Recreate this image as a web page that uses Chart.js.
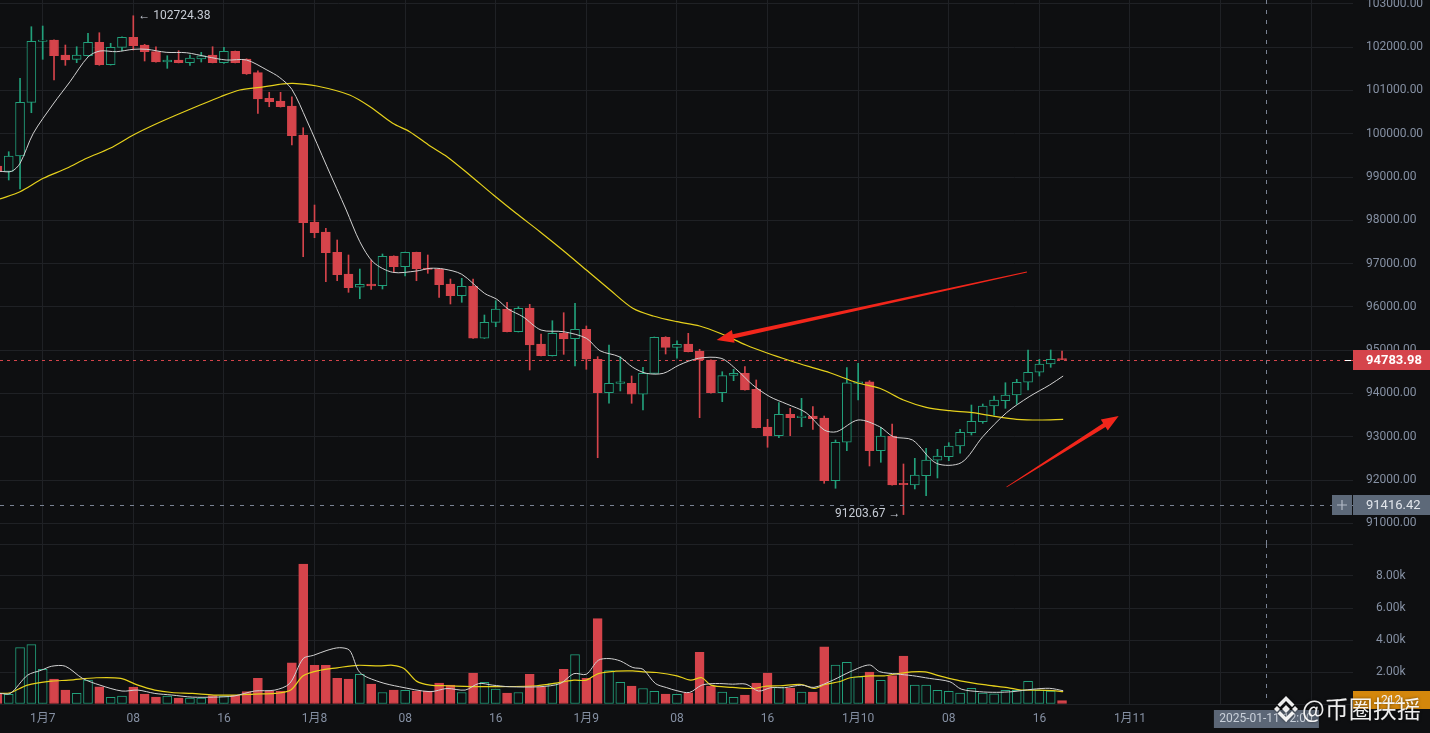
<!DOCTYPE html>
<html>
<head>
<meta charset="utf-8">
<script src="https://cdn.jsdelivr.net/npm/chart.js@4.4.1/dist/chart.umd.min.js"></script>
<style>
  html, body { margin: 0; padding: 0; background: #0e0f11; overflow: hidden; }
  #pricePane { position: absolute; left: 0; top: 0; width: 1430px; height: 544px; }
  #volPane { position: absolute; left: 0; top: 544px; width: 1430px; height: 189px; }
</style>
</head>
<body>
<div id="pricePane"><canvas id="priceChart" width="1430" height="544"></canvas></div>
<div id="volPane"><canvas id="volChart" width="1430" height="189"></canvas></div>
<script>
// hourly candles, index 0 = 2025-01-06 20:00 ... index 94 = 2025-01-10 18:00
const openPrice = [
  99254, 99131, 99485, 100725, 102134, 102164, 101817, 101718, 101801, 102111,
  101593, 101995, 102226, 102048, 101894, 101656, 101702, 101640, 101725, 101817,
  101640, 101903, 101725, 101409, 100817, 100755, 100640, 99970, 97954, 97730,
  97261, 96760, 96453, 96529, 96490, 97175, 96928, 97261, 96898, 96875,
  96529, 96259, 96476, 95275, 95644, 95951, 95427, 95975, 95143, 94873,
  95390, 95266, 95483, 94790, 94018, 94235, 94235, 93982, 94466, 95298,
  95067, 95143, 94982, 94774, 94018, 94420, 94466, 94097, 93226, 93025,
  93520, 93441, 93480, 93434, 91986, 92873, 94235, 94272, 92679, 93019,
  91926, 91887, 92102, 92458, 92540, 92788, 93095, 93349, 93711, 93834,
  93965, 94259, 94490, 94681, 94804
];
const highPrice = [
  99323, 99584, 101279, 102471, 102487, 102170, 102048, 102009, 102318, 102332,
  102088, 102235, 102724.38, 102064, 102009, 101801, 101917, 101817, 101880, 102009,
  101995, 101910, 101730, 101455, 100956, 100956, 100854, 100138, 98353, 97815,
  97545, 97199, 96875, 97083, 97222, 97180, 97265, 97265, 97199, 96880,
  96644, 96660, 96644, 95813, 96143, 96106, 96005, 96060, 95374, 95681,
  95866, 96083, 95559, 94850, 95120, 94850, 94404, 94605, 95305, 95312,
  95219, 95390, 95021, 94780, 94503, 94559, 94619, 94312, 93404, 93788,
  93658, 93889, 93695, 93480, 92926, 94596, 94697, 94296, 93219, 93296,
  92372, 92503, 92735, 92711, 92864, 93173, 93734, 93757, 93942, 94249,
  94328, 95005, 94790, 95005, 94982
];
const lowPrice = [
  99046, 98931, 98723, 100485, 101718, 101240, 101579, 101640, 101790, 101580,
  101585, 101917, 101933, 101679, 101650, 101510, 101635, 101579, 101656, 101635,
  101626, 101635, 101370, 100471, 100623, 100615, 99739, 97159, 97598, 96582,
  96605, 96337, 96189, 96406, 96413, 96806, 96714, 96605, 96776, 96221,
  96067, 96106, 95270, 95270, 95543, 95420, 95420, 94543, 94865, 94865,
  94905, 94635, 94559, 92517, 93774, 94058, 93774, 93619, 94460, 94912,
  94813, 94960, 93441, 94010, 93811, 94296, 94075, 93205, 92758, 92979,
  93025, 93233, 93173, 91926, 91811, 92679, 93850, 92326, 92411, 91880,
  91203.67, 91795, 91640, 92049, 92448, 92619, 93042, 93312, 93497, 93658,
  93750, 94081, 94404, 94605, 94780
];
const closePrice = [
  99131, 99485, 100725, 102134, 102164, 101801, 101702, 101817, 102111, 101593,
  101995, 102226, 102032, 101894, 101656, 101702, 101640, 101748, 101801, 101640,
  101903, 101640, 101378, 100801, 100739, 100623, 99954, 97945, 97714, 97252,
  96744, 96444, 96522, 96483, 97169, 96928, 97261, 96882, 96868, 96513,
  96259, 96476, 95275, 95644, 95951, 95427, 95967, 95120, 94873, 95390,
  95259, 95483, 94790, 94018, 94235, 94272, 93982, 94466, 95298, 95067,
  95136, 94965, 94774, 94018, 94411, 94466, 94081, 93210, 93025, 93520,
  93441, 93480, 93418, 91986, 92873, 94249, 94272, 92679, 93019, 91887,
  91894, 92118, 92465, 92557, 92788, 93104, 93358, 93711, 93850, 93965,
  94259, 94490, 94681, 94790, 94783.98
];
const volume = [
  600, 600, 3520, 3710, 2160, 1550, 870, 660, 1490, 1080,
  420, 500, 1060, 620, 430, 500, 370, 370, 370, 520,
  500, 540, 770, 1610, 810, 810, 2570, 8750, 2420, 2420,
  1610, 1550, 1860, 1240, 720, 870, 850, 810, 810, 1300,
  1180, 720, 1930, 1350, 930, 680, 720, 1860, 1040, 1280,
  2170, 3090, 1600, 5340, 2090, 1350, 1120, 970, 790, 620,
  600, 700, 3230, 1120, 750, 420, 560, 1300, 1930, 1040,
  990, 750, 750, 3580, 2440, 2600, 1700, 2000, 1480, 1770,
  3000, 1190, 1190, 860, 790, 690, 980, 690, 630, 860,
  860, 1420, 860, 800, 212
];

// moving average lines: [hour index, value]
const priceMaWhite = [
  [0.23, 99131], [1.26, 99131], [2.0, 99316], [3.17, 100009], [4.93, 100686], [6.41, 101201],
  [8.02, 101778], [9.06, 101910], [10.5, 101894], [12.0, 101949], [13.2, 101949], [14.9, 101880],
  [16.7, 101870], [18.5, 101778], [20.2, 101702], [22.0, 101702], [23.8, 101471], [24.9, 101302],
  [26.0, 101025], [27.3, 100316], [29.1, 99238], [30.8, 98238], [32.0, 97506], [33.2, 97030],
  [34.9, 96799], [37.0, 96829], [38.2, 96891], [39.4, 96875], [41.0, 96753], [43.0, 96314],
  [44.1, 96175], [45.1, 95951], [46.4, 95773], [48.0, 95466], [50.0, 95427], [52.0, 95275],
  [53.2, 94988], [54.9, 94850], [56.1, 94605], [57.3, 94466], [58.8, 94466], [60.2, 94658],
  [61.9, 94813], [63.9, 94813], [65.3, 94543], [66.7, 94196], [68.2, 93926], [69.7, 93757],
  [71.4, 93557], [73.0, 93157], [74.1, 93118], [76.0, 93388], [77.9, 93233], [79.1, 93002],
  [80.8, 92926], [82.9, 92388], [85.1, 92402], [87.0, 93002], [89.1, 93557], [91.1, 93926],
  [92.9, 94196], [94.1, 94404]
];
const priceMaYellow = [
  [0.23, 98492], [2.0, 98660], [4.05, 98970], [6.12, 99201], [7.88, 99432], [9.94, 99663],
  [12.0, 99970], [13.8, 100201], [15.8, 100432], [17.9, 100663], [19.7, 100854], [21.4, 101009],
  [23.2, 101071], [24.9, 101141], [26.1, 101164], [28.2, 101101], [31.1, 100894], [32.9, 100623],
  [34.9, 100240], [36.4, 100046], [38.2, 99716], [39.7, 99469], [41.7, 99046], [43.8, 98584],
  [45.8, 98162], [47.9, 97737], [49.9, 97314], [52.0, 96852], [54.1, 96390], [56.1, 95968],
  [57.9, 95790], [60.0, 95658], [62.0, 95559], [63.8, 95390], [66.1, 95120], [67.9, 94942],
  [70.0, 94757], [71.7, 94619], [73.5, 94480], [75.9, 94249], [77.9, 94120], [80.0, 93850],
  [82.0, 93681], [84.1, 93603], [86.1, 93557], [88.2, 93464], [90.0, 93404], [92.0, 93388],
  [94.1, 93404]
];
const volMaWhite = [
  [0.23, 660], [1.14, 660], [2.66, 1800], [3.88, 2110], [4.79, 2360], [6.0, 2360], [7.52, 1600],
  [9.05, 1180], [11.0, 810], [12.4, 870], [13.9, 660], [15.4, 560], [17.2, 430], [19.1, 430],
  [20.9, 500], [22.7, 810], [24.5, 870], [25.8, 1280], [27.0, 2840], [27.9, 3040], [29.1, 3350],
  [30.2, 3520], [31.1, 3350], [32.0, 1970], [33.7, 1390], [35.5, 1080], [38.2, 770], [39.7, 970],
  [41.3, 870], [42.5, 1280], [43.7, 1180], [45.2, 1080], [47.9, 1080], [49.7, 1280], [50.9, 1900],
  [52.0, 1860], [53.05, 2730], [54.0, 2840], [55.0, 2690], [56.1, 2280], [57.0, 2170], [58.1, 1280],
  [59.1, 1020], [60.0, 830], [61.1, 720], [62.2, 1180], [63.4, 1280], [64.9, 1240], [66.1, 1240],
  [67.2, 810], [68.3, 1020], [69.5, 1020], [71.0, 1180], [72.1, 1040], [73.8, 1500], [75.3, 2020],
  [77.0, 2440], [77.9, 2020], [79.4, 1875], [80.8, 1770], [82.3, 1600], [84.1, 1390], [85.1, 930],
  [86.7, 770], [88.2, 730], [89.6, 770], [91.4, 920], [92.9, 980], [94.1, 830]
];
const volMaYellow = [
  [0.23, 660], [1.14, 700], [2.66, 1180], [4.79, 1430], [6.31, 1490], [8.74, 1640], [10.9, 1600],
  [12.4, 1180], [13.9, 870], [15.4, 720], [17.2, 660], [19.1, 560], [20.9, 560], [22.7, 620],
  [24.5, 660], [25.9, 870], [27.0, 1760], [28.5, 2110], [30.0, 2260], [31.8, 2420], [33.7, 2380],
  [34.9, 2420], [35.9, 2220], [37.0, 1430], [38.2, 1180], [39.7, 1140], [42.8, 1080], [47.6, 1140],
  [49.7, 1350], [50.9, 1490], [52.0, 1490], [53.05, 1900], [54.6, 2050], [56.1, 2070], [57.0, 2010],
  [58.2, 1970], [60.0, 1760], [61.2, 1490], [62.2, 1640], [63.0, 1180], [64.9, 1040], [66.7, 970],
  [67.9, 1120], [69.1, 1140], [71.0, 1220], [72.1, 970], [73.1, 1220], [74.3, 1390], [75.3, 1640],
  [77.1, 1760], [78.3, 1760], [79.5, 1900], [80.7, 2010], [81.9, 2010], [83.2, 1760], [85.0, 1450],
  [87.4, 1180], [89.2, 1020], [90.4, 870], [92.0, 870], [93.2, 830], [94.1, 770]
];

const xTickHours = [4, 12, 20, 28, 36, 44, 52, 60, 68, 76, 84, 92, 100, 108, 116];
const xTickLabels = ["1月7", "08", "16", "1月8", "08", "16", "1月9", "08", "16", "1月10", "08", "16", "1月11", "08", "16"];
const priceTicks = [91000, 92000, 93000, 94000, 95000, 96000, 97000, 98000, 99000, 100000, 101000, 102000, 103000];
const volTicks = [0, 2000, 4000, 6000, 8000, 10000];

const lastPrice = 94783.98;
const crossPrice = 91416.42;
const crossHour = 112;
const crossTime = "2025-01-11 12:00";
const lastVolume = 212;
const highMark = [12, 102724.38];
const lowMark = [80, 91203.67];
// hand drawn arrows: [tail hour, tail price, head hour, head price]
const arrowMarks = [
  [90.9, 96806, 63.5, 95235],
  [89.1, 91841, 99.0, 93480]
];

const bgColor = '#0e0f11';
const gridColor = '#1f2125';
const axisText = '#8590a3';
const upColor = '#22a07b';
const downColor = '#d5444b';

Chart.defaults.font.family = 'Roboto, "Noto Sans CJK SC", sans-serif';
Chart.defaults.font.size = 12;
Chart.defaults.animation = false;

const isUp = closePrice.map((c, i) => c >= openPrice[i]);
const toPts = arr => arr.map(p => ({ x: p[0], y: p[1] }));

function hourAxis(labelled, height) {
  return {
    type: 'linear', min: 0.23, max: 119.69, offset: false,
    afterBuildTicks: s => { s.ticks = xTickHours.map(v => ({ value: v })); },
    afterFit: s => { s.height = height; s.paddingLeft = 0; s.paddingRight = 0; },
    grid: { color: gridColor, drawTicks: false, offset: false },
    border: { display: false },
    ticks: {
      display: labelled, autoSkip: false, maxRotation: 0, padding: 8, color: axisText,
      callback: v => xTickLabels[xTickHours.indexOf(v)]
    }
  };
}

function drawArrow(ctx, x1, y1, x2, y2) {
  const dx = x2 - x1, dy = y2 - y1, len = Math.hypot(dx, dy);
  const ux = dx / len, uy = dy / len, nx = -uy, ny = ux;
  const head = 17, wing = 6.5, neck = 2.2, tail = 0.4;
  const bx = x2 - ux * head, by = y2 - uy * head;
  ctx.beginPath();
  ctx.moveTo(x1 + nx * tail, y1 + ny * tail);
  ctx.lineTo(bx + nx * neck, by + ny * neck);
  ctx.lineTo(bx + nx * wing, by + ny * wing);
  ctx.lineTo(x2, y2);
  ctx.lineTo(bx - nx * wing, by - ny * wing);
  ctx.lineTo(bx - nx * neck, by - ny * neck);
  ctx.lineTo(x1 - nx * tail, y1 - ny * tail);
  ctx.closePath();
  ctx.fill();
}

function dashedLine(ctx, x1, y1, x2, y2, color, dash) {
  ctx.save();
  ctx.strokeStyle = color;
  ctx.lineWidth = 1;
  ctx.setLineDash(dash);
  ctx.beginPath();
  ctx.moveTo(x1, y1);
  ctx.lineTo(x2, y2);
  ctx.stroke();
  ctx.restore();
}

const priceOverlay = {
  id: 'priceOverlay',
  beforeDatasetsDraw(chart) {
    const { ctx, chartArea: a, scales: { y } } = chart;
    const py = Math.round(y.getPixelForValue(lastPrice)) + 0.5;
    dashedLine(ctx, a.left, py, a.right, py, downColor, [3, 4]);
  },
  afterDatasetsDraw(chart) {
    const { ctx, chartArea: a, scales: { x, y } } = chart;
    const cy = Math.round(y.getPixelForValue(crossPrice)) + 0.5;
    const cx = Math.round(x.getPixelForValue(crossHour)) + 0.5;
    dashedLine(ctx, a.left, cy, a.right, cy, '#7a8394', [4, 6]);
    dashedLine(ctx, cx, a.top, cx, a.bottom, '#7a8394', [4, 6]);

    ctx.save();
    ctx.fillStyle = '#f2261b';
    arrowMarks.forEach(m => {
      drawArrow(ctx, x.getPixelForValue(m[0]), y.getPixelForValue(m[1]),
                     x.getPixelForValue(m[2]), y.getPixelForValue(m[3]));
    });

    ctx.font = '12px Roboto, sans-serif';
    ctx.fillStyle = '#c7ccd5';
    ctx.textBaseline = 'middle';
    ctx.textAlign = 'left';
    ctx.fillText('\u2190 ' + highMark[1].toFixed(2),
                 x.getPixelForValue(highMark[0]) + 5, y.getPixelForValue(highMark[1]));
    ctx.textAlign = 'right';
    ctx.fillText(lowMark[1].toFixed(2) + ' \u2192',
                 x.getPixelForValue(lowMark[0]) - 3, y.getPixelForValue(lowMark[1]) - 1);
    ctx.restore();
  },
  afterDraw(chart) {
    const { ctx, chartArea: a, scales: { y } } = chart;
    ctx.save();
    // last price tag
    const py = Math.round(y.getPixelForValue(lastPrice));
    ctx.fillStyle = downColor;
    ctx.fillRect(a.right, py - 10, 77, 20);
    ctx.fillStyle = '#ffffff';
    ctx.fillRect(a.right - 8, py, 6, 1);
    ctx.font = 'bold 13px Roboto, sans-serif';
    ctx.textBaseline = 'middle';
    ctx.textAlign = 'left';
    ctx.fillText(lastPrice.toFixed(2), a.right + 13, py + 1);
    // crosshair price tag
    const cy = Math.round(y.getPixelForValue(crossPrice));
    ctx.fillStyle = '#5d6979';
    ctx.fillRect(a.right, cy - 10, 77, 20);
    ctx.fillRect(a.right - 21, cy - 10, 20, 20);
    ctx.strokeStyle = '#b3bbc7';
    ctx.lineWidth = 1.2;
    ctx.beginPath();
    ctx.moveTo(a.right - 16, cy); ctx.lineTo(a.right - 6, cy);
    ctx.moveTo(a.right - 11, cy - 5); ctx.lineTo(a.right - 11, cy + 5);
    ctx.stroke();
    ctx.fillStyle = '#e2e6ec';
    ctx.font = '13px Roboto, sans-serif';
    ctx.fillText(crossPrice.toFixed(2), a.right + 13, cy + 1);
    ctx.restore();
  }
};

function drawLogo(ctx, cx, cy) {
  const diamond = (x, y, r) => {
    ctx.beginPath();
    ctx.moveTo(x, y - r); ctx.lineTo(x + r, y); ctx.lineTo(x, y + r); ctx.lineTo(x - r, y);
    ctx.closePath(); ctx.fill();
  };
  diamond(cx, cy, 4);
  diamond(cx - 9, cy, 3);
  diamond(cx + 9, cy, 3);
  [-1, 1].forEach(s => {
    ctx.beginPath();
    ctx.moveTo(cx, cy + s * 13);
    ctx.lineTo(cx + 8.5, cy + s * 4.5);
    ctx.lineTo(cx + 6, cy + s * 2);
    ctx.lineTo(cx, cy + s * 8);
    ctx.lineTo(cx - 6, cy + s * 2);
    ctx.lineTo(cx - 8.5, cy + s * 4.5);
    ctx.closePath();
    ctx.fill();
  });
}

const volOverlay = {
  id: 'volOverlay',
  afterDatasetsDraw(chart) {
    const { ctx, chartArea: a, scales: { x } } = chart;
    const cx = Math.round(x.getPixelForValue(crossHour)) + 0.5;
    dashedLine(ctx, cx, a.top, cx, a.bottom, '#7a8394', [4, 6]);
  },
  afterDraw(chart) {
    const { ctx, chartArea: a, scales: { x, y } } = chart;
    ctx.save();
    // last volume tag
    const vy = Math.round(y.getPixelForValue(lastVolume));
    ctx.fillStyle = '#d4870c';
    ctx.fillRect(a.right, vy - 10, 77, 18);
    ctx.fillStyle = '#f4f4f4';
    ctx.font = '12px Roboto, sans-serif';
    ctx.textBaseline = 'middle';
    ctx.textAlign = 'left';
    ctx.fillText(String(lastVolume), a.right + 28, vy);
    // crosshair time tag
    const cx = x.getPixelForValue(crossHour);
    ctx.fillStyle = '#5b6676';
    ctx.fillRect(cx - 52, a.bottom + 6, 105, 18);
    ctx.fillStyle = '#c9d0da';
    ctx.textAlign = 'center';
    ctx.fillText(crossTime, cx, a.bottom + 15);
    // watermark
    ctx.shadowColor = 'rgba(0,0,0,0.6)';
    ctx.shadowBlur = 3;
    ctx.fillStyle = 'rgba(255,255,255,0.93)';
    drawLogo(ctx, 1286, a.bottom + 5);
    ctx.font = '24px "Noto Sans CJK SC", sans-serif';
    ctx.textAlign = 'left';
    ctx.textBaseline = 'alphabetic';
    ctx.fillText('@币圈扶摇', 1302, a.bottom + 14);
    ctx.restore();
  }
};

const common = {
  responsive: false,
  animation: false,
  events: [],
  layout: { padding: 0, autoPadding: false },
  plugins: { legend: { display: false }, tooltip: { enabled: false } }
};

new Chart(document.getElementById('priceChart'), {
  type: 'bar',
  data: {
    datasets: [
      {
        type: 'line', data: toPts(priceMaWhite), borderColor: '#d2d2d2', borderWidth: 1,
        pointRadius: 0, tension: 0.3, order: 0
      },
      {
        type: 'line', data: toPts(priceMaYellow), borderColor: '#e6d11c', borderWidth: 1.2,
        pointRadius: 0, tension: 0.3, order: 0
      },
      {
        type: 'bar', grouped: false, order: 1,
        data: openPrice.map((o, i) => ({ x: i, y: [o, closePrice[i]] })),
        backgroundColor: isUp.map(u => u ? bgColor : downColor),
        borderColor: isUp.map(u => u ? upColor : downColor),
        borderWidth: 1, borderSkipped: false, barThickness: 9, minBarLength: 1
      },
      {
        type: 'bar', grouped: false, order: 2,
        data: lowPrice.map((l, i) => ({ x: i, y: [l, highPrice[i]] })),
        backgroundColor: isUp.map(u => u ? upColor : downColor),
        borderWidth: 0, barThickness: 1
      }
    ]
  },
  options: Object.assign({}, common, {
    scales: {
      x: hourAxis(false, 0),
      y: {
        type: 'linear', position: 'right', min: 90524, max: 103088,
        afterBuildTicks: s => { s.ticks = priceTicks.map(v => ({ value: v })); },
        afterFit: s => { s.width = 77; s.paddingTop = 0; s.paddingBottom = 0; },
        grid: { color: gridColor, drawTicks: false },
        border: { display: false },
        ticks: { padding: 13, color: axisText, callback: v => v.toFixed(2) }
      }
    }
  }),
  plugins: [priceOverlay]
});

new Chart(document.getElementById('volChart'), {
  type: 'bar',
  data: {
    datasets: [
      {
        type: 'line', data: toPts(volMaWhite), borderColor: '#d2d2d2', borderWidth: 1,
        pointRadius: 0, tension: 0.3, order: 0
      },
      {
        type: 'line', data: toPts(volMaYellow), borderColor: '#e6d11c', borderWidth: 1.2,
        pointRadius: 0, tension: 0.3, order: 0
      },
      {
        type: 'bar', grouped: false, order: 1,
        data: volume.map((v, i) => ({ x: i, y: v })),
        backgroundColor: isUp.map(u => u ? bgColor : downColor),
        borderColor: isUp.map(u => u ? upColor : downColor),
        borderWidth: 1, borderSkipped: false, barThickness: 9
      }
    ]
  },
  options: Object.assign({}, common, {
    scales: {
      x: hourAxis(true, 29),
      y: {
        type: 'linear', position: 'right', min: 0, max: 10000,
        afterBuildTicks: s => { s.ticks = volTicks.map(v => ({ value: v })); },
        afterFit: s => { s.width = 77; s.paddingTop = 0; s.paddingBottom = 0; },
        grid: { color: gridColor, drawTicks: false },
        border: { display: false },
        ticks: {
          padding: 23, color: axisText,
          callback: v => (v > 0 && v < 10000) ? (v / 1000).toFixed(2) + 'k' : ''
        }
      }
    }
  }),
  plugins: [volOverlay]
});
</script>
</body>
</html>
